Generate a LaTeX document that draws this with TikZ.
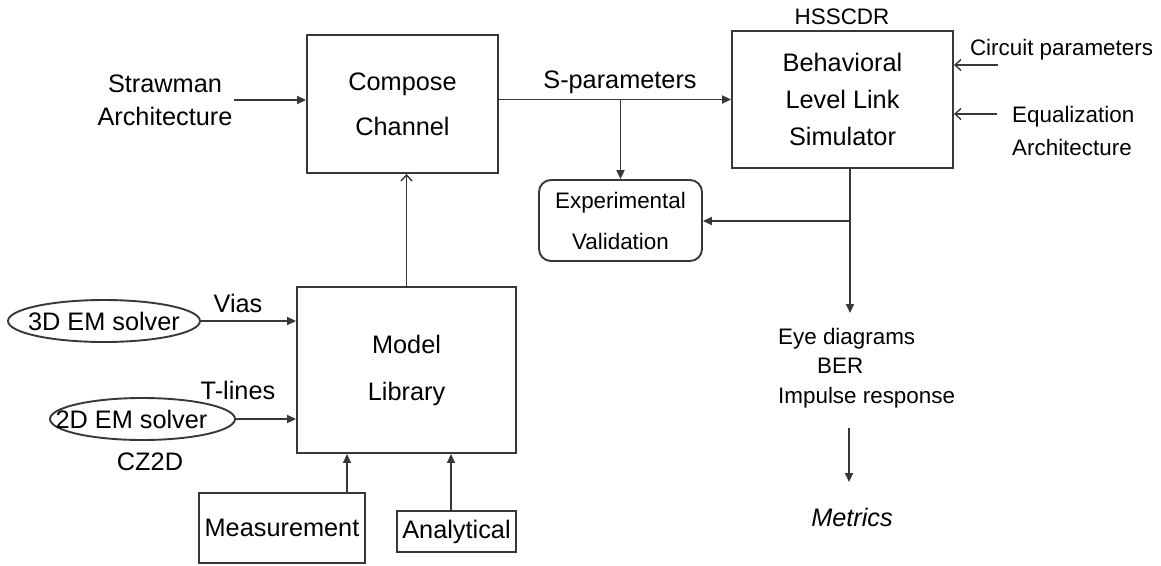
\documentclass[tikz,border=0pt]{standalone}
\usepackage{fontspec}
\setmainfont{Liberation Sans}
\usetikzlibrary{arrows.meta,shapes.geometric}
\tikzset{
  lbig/.style={font={\fontsize{25.3}{33}\selectfont}},
  lsmall/.style={font={\fontsize{22.4}{30}\selectfont}},
  boxn/.style={draw=black!78, line width=1.9pt, inner sep=0pt, align=center},
  arr/.style={draw=black!78, line width=1.9pt, -{Triangle[length=9pt,width=8pt]}},
  oarr/.style={draw=black!78, line width=1.9pt, -{Straight Barb[length=6pt,width=11pt,line width=1.4pt]}},
  ell/.style={draw=black!78, line width=1.9pt, ellipse, inner sep=0pt},
  txt/.style={inner sep=1pt, align=center}
}
\begin{document}
\begin{tikzpicture}[x=1pt,y=-1pt]
\useasboundingbox (0,0) rectangle (1161,565);
% boxes
\node[boxn, minimum width=191pt, minimum height=138pt, font={\fontsize{25.3}{45}\selectfont}] (compose) at (402.5,104) {Compose\\Channel};
\node[boxn, minimum width=221pt, minimum height=137pt, font={\fontsize{25.3}{37}\selectfont}] (behav) at (842.5,99.5) {Behavioral\\Level Link\\Simulator};
\node[boxn, rounded corners=12pt, minimum width=163pt, minimum height=81pt, font={\fontsize{22.4}{41}\selectfont}] (exp) at (620.5,220.5) {Experimental\\Validation};
\node[boxn, minimum width=219pt, minimum height=166pt, font={\fontsize{25.3}{47}\selectfont}] (model) at (406.5,370) {Model\\Library};
\node[boxn, minimum width=166pt, minimum height=70pt, lbig] (meas) at (282,528) {Measurement};
\node[boxn, minimum width=119pt, minimum height=41pt, lbig] (anal) at (456.5,531.5) {Analytical};
\node[ell, minimum width=192pt, minimum height=42pt, lbig] (e3) at (104,321) {\makebox[0pt]{3D EM solver}};
\node[ell, minimum width=185pt, minimum height=42pt, lbig] (e2) at (142.5,419) {\makebox[0pt]{\kern-22pt 2D EM solver}};
% text labels
\node[txt, lbig] (straw) at (165,100) {Strawman\\Architecture};
\node[txt, lbig] (spar) at (620,82) {S-parameters};
\node[txt, lsmall] (hss) at (842,17) {HSSCDR};
\node[txt, lsmall] (circ) at (1061.5,50) {Circuit parameters};
\node[inner sep=0pt, align=left, anchor=west, font={\fontsize{22.4}{33}\selectfont}] (eq) at (1012,130.5) {Equalization\\Architecture};
\node[inner sep=0pt, align=left, anchor=west, font={\fontsize{22.4}{29.5}\selectfont}] (outs) at (778,368) {Eye diagrams\\\hspace*{39pt}BER\\Impulse response};
\node[txt, font={\fontsize{25.3}{33}\selectfont\itshape}] (metrics) at (852,517) {Metrics};
\node[txt, lbig] (vias) at (238,303) {Vias};
\node[txt, lbig] (tl) at (238,390) {T-lines};
\node[txt, lbig] (cz) at (150,462) {CZ2D};
% coordinates
\coordinate (jx) at (850,221);
\coordinate (tip1) at (850,313);
\coordinate (tail2) at (849,428);
\coordinate (tip2) at (849,482);
\coordinate (cpt) at (998,65);
\coordinate (eqt) at (997,114);
\coordinate (mx) at (347,0);
\coordinate (ax) at (451,0);
% connectors
\draw[arr] (straw.east) -- (compose.west |- straw.east);
\draw[arr] (compose.east |- behav.west) -- (behav.west);
\draw[arr] (exp.north |- behav.west) -- (exp.north);
\draw[draw=black!78, line width=1.9pt] (behav.south -| jx) -- (jx);
\draw[arr] (jx) -- (tip1);
\draw[arr] (jx) -- (exp.east |- jx);
\draw[arr] (tail2) -- (tip2);
\draw[oarr] (cpt) -- (behav.east |- cpt);
\draw[oarr] (eqt) -- (behav.east |- eqt);
\draw[arr] (e3.east) -- (model.west |- e3.east);
\draw[arr] (e2.east) -- (model.west |- e2.east);
\draw[oarr] (model.north) -- (compose.south -| model.north);
\draw[arr] (meas.north -| mx) -- (model.south -| mx);
\draw[arr] (anal.north -| ax) -- (model.south -| ax);
\end{tikzpicture}
\end{document}
